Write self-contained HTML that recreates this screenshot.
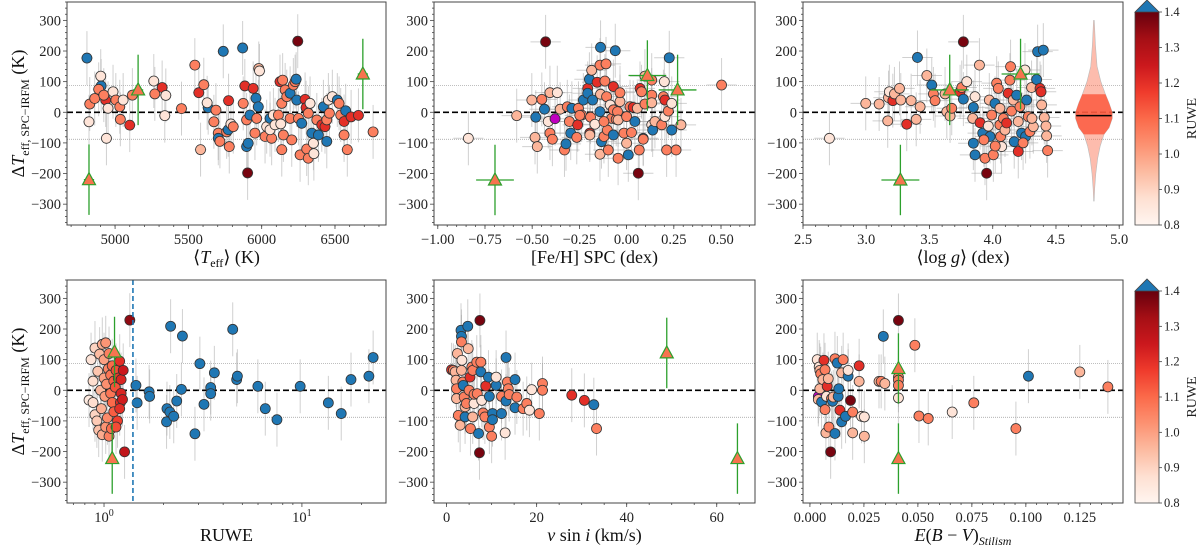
<!DOCTYPE html>
<html><head><meta charset="utf-8"><style>
html,body{margin:0;padding:0;background:#fff}
svg{display:block;font-family:"Liberation Serif",serif}
</style></head><body>
<svg id="fig" width="1200" height="550" viewBox="0 0 1200 550" xmlns="http://www.w3.org/2000/svg">
<defs>
<linearGradient id="reds" x1="0" y1="1" x2="0" y2="0">
<stop offset="0" stop-color="#fff5f0"/><stop offset="0.125" stop-color="#fee0d2"/><stop offset="0.25" stop-color="#fcbba1"/><stop offset="0.375" stop-color="#fc9272"/><stop offset="0.5" stop-color="#fb6a4a"/><stop offset="0.625" stop-color="#ef3b2c"/><stop offset="0.75" stop-color="#cb181d"/><stop offset="0.875" stop-color="#a50f15"/><stop offset="1" stop-color="#67000d"/>
</linearGradient>
</defs>
</svg>
<script>
// ---- data (x, ΔTeff, colour code: p pale, l light, s salmon, r red, d dark red, b blue (RUWE>1.4), m magenta)
const p1Teff=[4808,4822,4827,4861,4902,4905,4888,4936,4923,4941,4952,4986,5005,5032,5036,5055,5100,5118,5264,5271,5321,5346,5339,5453,5544,5571,5605,5583,5635,5628,5688,5674,5704,5704,5715,5738,5761,5772,5774,5779,5790,5806,5870,5874,5885,5897,5897,5904,5908,5920,5942,5954,5966,5961,5980,5985,5977,6023,6034,6057,6068,6057,6080,6091,6114,6125,6143,6137,6160,6171,6148,6137,6130,6194,6194,6205,6216,6228,6239,6251,6262,6246,6235,6273,6296,6303,6307,6318,6318,6330,6342,6353,6376,6387,6410,6421,6432,6444,6455,6462,6356,6482,6516,6528,6444,6539,6562,6562,6573,6584,6610,6760,6660];
const p1dT=[177,-31,27,45,118,86,75,40,56,-85,13,67,40,18,-23,40,-42,56,102,60,81,55,-11,12,154,64,90,-122,15,31,7,-31,-68,-85,-95,199,-64,-57,38,-112,-38,-47,210,29,86,-25,-112,-198,-101,-9,78,-68,-20,46,143,135,18,-79,-47,-20,-85,-57,-9,-41,-9,100,105,29,73,51,-74,-122,-38,62,-20,-90,89,100,40,-20,-139,232,108,-36,42,15,-120,-150,-3,29,-68,-101,-25,-74,-41,18,-47,-25,40,-3,-135,51,40,29,-95,-9,-30,-74,5,-122,-15,-64,-10];
const p1Col=["b","p","s","s","p","b","s","r","s","p","p","p","s","s","s","p","r","s","p","s","r","p","p","s","s","r","s","l","b","p","s","s","s","b","s","b","s","b","r","s","p","s","b","s","r","s","b","d","b","b","r","s","s","b","l","p","b","s","p","b","s","p","p","p","s","r","s","s","s","s","s","s","p","b","s","s","s","s","b","s","s","d","b","b","r","r","s","s","s","p","b","p","s","b","r","b","r","s","p","s","p","p","b","s","b","s","r","s","b","s","r","s","r"];
const p1TriX=[4822,5157,6690];
const p1TriY=[-220,73,125];

const p2Feh=[-0.838,-0.582,-0.502,-0.449,-0.485,-0.473,-0.435,-0.429,-0.481,-0.415,-0.406,-0.367,-0.379,-0.406,-0.393,-0.352,-0.329,-0.321,-0.314,-0.303,-0.296,-0.290,-0.264,-0.255,-0.259,-0.238,-0.229,-0.206,-0.206,-0.197,-0.185,-0.180,-0.191,-0.195,-0.195,-0.168,-0.156,-0.141,-0.138,-0.141,-0.141,-0.138,-0.133,-0.120,-0.115,-0.109,-0.106,-0.102,-0.097,-0.087,-0.079,-0.070,-0.070,-0.070,-0.060,-0.055,-0.048,-0.045,-0.045,-0.035,-0.035,-0.014,0.0,0.0,0.009,0.018,0.026,0.035,0.044,0.057,0.062,0.067,0.071,0.079,0.088,0.088,0.097,0.097,0.133,0.133,0.133,0.133,0.138,0.150,0.186,0.195,0.200,0.203,0.203,0.212,0.221,0.226,0.239,0.239,0.262,0.288,0.503,-0.248,-0.12];
const p2dT=[-85,-11,40,42,-82,-112,10,230,-16,-30,64,64,-21,-68,-88,10,-123,-103,18,-30,-68,13,-82,13,-41,-9,40,78,62,108,137,40,-16,-68,-74,-39,98,154,59,2,-137,212,-96,-79,102,158,51,-58,-123,24,-20,84,8,-74,201,-23,2,-25,-150,35,64,-68,-14,-101,-139,18,-66,16,-30,13,-199,-123,78,67,-85,-88,27,118,105,56,31,-41,-58,-30,-41,51,100,40,-14,-123,4,178,-58,29,-123,-41,89,-10,-30];
const p2Col=["p","l","l","s","l","l","b","d","b","p","l","p","m","s","s","l","s","b","s","s","b","b","s","s","r","s","b","r","b","b","l","b","s","r","l","p","r","s","l","b","l","b","b","s","s","s","s","s","s","p","s","r","s","b","b","s","s","l","s","l","s","s","s","l","b","s","s","r","b","l","d","s","r","s","b","s","s","l","s","s","l","p","b","l","s","s","p","r","p","s","s","b","b","p","s","l","s","s","s"];
const p2TriX=[-0.697,0.11,0.27];
const p2TriY=[-221,120,73];

const p3Logg=[2.709,2.996,3.102,3.170,3.176,3.183,3.210,3.223,3.263,3.273,3.320,3.355,3.395,3.405,3.426,3.479,3.518,3.531,3.544,3.623,3.637,3.663,3.676,3.742,3.755,3.768,3.768,3.795,3.842,3.847,3.860,3.847,3.860,3.895,3.900,3.921,3.939,3.952,3.965,3.973,3.979,3.992,4.005,4.018,4.031,4.044,4.057,4.057,4.062,4.070,4.084,4.097,4.123,4.136,4.141,4.149,4.162,4.170,4.189,4.202,4.202,4.215,4.228,4.255,4.260,4.268,4.281,4.294,4.307,4.321,4.347,4.355,4.374,4.382,4.387,4.400,4.408,4.421,4.426,4.434,3.93,4.02,4.11,4.24,4.31];
const p3dT=[-85,29,27,-28,48,67,38,60,78,40,-39,38,-23,179,18,120,89,60,38,60,2,-12,13,67,81,43,230,100,-20,16,51,-101,-139,154,-34,-68,-150,-199,-45,40,-79,-9,-139,29,95,78,13,-41,-79,-112,-20,-58,62,105,149,4,40,-96,56,-30,-128,18,-68,138,-79,40,-14,-63,81,-47,107,198,78,67,24,203,-17,-45,-77,-125,-90,-110,-35,-100,-20];
const p3Col=["p","l","l","l","l","p","r","l","l","l","r","l","l","b","l","l","b","s","s","l","l","l","s","r","s","b","d","p","l","b","p","b","b","l","r","b","s","d","p","l","b","s","s","b","s","s","l","s","s","p","s","l","r","s","s","s","l","b","b","l","r","s","b","p","b","b","s","s","l","l","b","b","r","r","l","b","l","l","l","s","s","s","r","s","l"];
const p3TriX=[3.27,3.66,4.22];
const p3TriY=[-221,73,125];
const violinY=[300,220,150,100,60,30,0,-20,-50,-72,-110,-150,-200,-250,-290];
const violinW=[0.003,0.012,0.025,0.055,0.09,0.12,0.145,0.145,0.12,0.08,0.05,0.03,0.015,0.006,0.002];
const violinQ=[59,-72];
const violinMed=-11;

const p4Ruwe=[1.45,1.47,1.69,1.70,2.07,2.08,2.17,2.15,2.25,2.33,2.46,2.49,2.88,3.05,3.20,3.46,3.46,3.61,4.47,4.68,4.72,5.99,6.53,7.48,9.80,13.6,15.8,17.7,21.8,22.9,1.35,1.27,
0.84,0.86,0.88,0.90,0.88,0.90,0.92,0.93,0.95,0.94,0.96,0.97,0.98,1.0,0.98,1.0,1.02,1.03,1.01,1.04,1.05,1.02,1.06,1.06,1.08,1.08,1.1,1.09,1.1,1.12,1.12,1.14,1.15,1.17,1.18,1.2,1.21,1.22,1.22,1.24,1.25,1.2,1.15];
const p4dT=[16,-41,-5,-20,-103,-60,209,-71,-85,-35,3,177,-142,87,-46,9,-11,57,199,35,46,13,-60,-96,13,-41,-76,35,46,107,229,-201,
-32,100,30,138,-40,-80,-100,62,118,-130,0,-60,150,40,-145,100,-120,20,-20,-90,70,155,-150,120,50,-10,-40,-125,80,-70,30,10,65,-100,40,95,-40,35,-10,-30,65,-60,-120];
const p4TriX=[1.13,1.10];
const p4TriY=[125,-223];
const p4Cut=1.4;

const p5Vsini=[1.1,1.5,1.9,2.1,2.2,2.2,2.4,2.6,3.0,3.2,3.3,3.3,3.4,3.3,3.6,3.7,3.9,4.1,4.1,4.4,4.7,4.8,5.0,5.2,5.3,5.6,5.8,5.8,6.1,6.1,6.7,6.8,7.1,7.3,7.4,7.6,7.6,7.8,8.1,8.5,8.7,9.3,9.5,9.5,10.0,10.2,10.2,11.0,11.0,12.2,12.2,13.2,13.0,13.2,13.5,13.7,13.9,15.2,15.2,15.6,17.0,17.8,18.4,18.9,20.6,21.3,21.3,27.8,30.6,32.7,33.3];
const p5dT=[67,65,60,33,5,-27,120,-82,-114,196,176,158,98,65,27,16,-22,-54,-87,-43,209,136,0,43,-125,76,65,-87,-43,-13,92,-11,-141,-204,228,92,60,-33,-74,-87,14,43,-20,-120,-150,-76,-96,16,43,-20,-76,107,-139,-35,27,5,-14,-57,35,-22,-60,-43,-65,2,-76,22,0,-16,-33,-47,-125];
const p5Col=["r","s","l","l","s","l","l","s","l","b","b","s","p","l","s","b","s","l","b","s","b","l","s","r","s","s","s","l","p","s","s","s","b","d","d","s","b","p","s","s","r","b","b","s","s","b","b","b","p","s","b","b","p","b","s","s","s","b","b","s","s","s","p","p","s","s","s","r","r","b","s"];
const p5TriX=[48.9,64.6];
const p5TriY=[122,-223];

const p6Ebv=[0.0034,0.0043,0.0039,0.0039,0.0046,0.0046,0.005,0.0054,0.006,0.0065,0.007,0.007,0.0074,0.0077,0.008,0.0085,0.0088,0.0096,0.01,0.0105,0.0108,0.0116,0.0116,0.0127,0.0131,0.0134,0.0139,0.0147,0.0147,0.0154,0.0165,0.0177,0.0177,0.0188,0.0198,0.0198,0.0228,0.0228,0.0239,0.0252,0.0252,0.032,0.033,0.034,0.0347,0.041,0.041,0.041,0.041,0.041,0.0486,0.0505,0.0548,0.0659,0.0759,0.0954,0.1012,0.125,0.138];
const p6dT=[100,76,-20,-30,65,5,54,-38,35,98,67,-63,-139,-20,13,38,-120,-201,-27,-36,-22,-141,103,89,-20,5,-65,57,-103,100,-85,46,65,-33,-139,-71,80,29,-85,-87,-150,29,29,176,22,228,43,33,16,-25,147,-84,-92,-71,-41,-125,46,60,11];
const p6Col=["p","p","m","l","l","l","s","b","l","r","s","s","l","p","r","l","s","d","s","b","l","b","s","b","b","b","r","l","b","s","b","b","p","d","l","s","r","l","p","p","l","l","s","b","l","d","s","s","s","p","s","s","s","p","s","s","b","l","s"];
const p6TriX=[0.041,0.041];
const p6TriY=[71,-223];

const yTicks=[-300,-200,-100,0,100,200,300];
const yTickLabels=["\u2212300","\u2212200","\u2212100","0","100","200","300"];
const sigmaLine=88;
const cbTicks=[0.8,0.9,1.0,1.1,1.2,1.3,1.4];

// ---- helpers
const svg=document.getElementById('fig');
const NS='http://www.w3.org/2000/svg';
function mk(tag,attrs,parent){const e=document.createElementNS(NS,tag);for(const k in attrs)e.setAttribute(k,attrs[k]);(parent||svg).appendChild(e);return e;}
const codeRuwe={p:0.86,l:0.96,s:1.06,r:1.2,d:1.38,b:2.5};
const stops=["#fff5f0","#fee0d2","#fcbba1","#fc9272","#fb6a4a","#ef3b2c","#cb181d","#a50f15","#67000d"];
function hex(h){return [parseInt(h.substr(1,2),16),parseInt(h.substr(3,2),16),parseInt(h.substr(5,2),16)];}
function reds(r){
  if(r>1.4) return "#1f77b4";
  let t=Math.max(0,Math.min(1,(r-0.8)/0.6))*8;let i=Math.min(7,Math.floor(t));let f=t-i;
  const a=hex(stops[i]),b=hex(stops[i+1]);
  return "rgb("+a.map((v,k)=>Math.round(v+(b[k]-v)*f)).join(",")+")";
}
function colFor(c){ if(c==="m") return "#c000c0"; return reds(codeRuwe[c]); }
const YMIN=-368,YMAX=360;

function makePanel(cfg){
  const g=mk('g',{});
  
  
  cfg.sx=function(v){
    if(cfg.log) return cfg.x0+(Math.log10(v)-Math.log10(cfg.xmin))/(Math.log10(cfg.xmax)-Math.log10(cfg.xmin))*(cfg.x1-cfg.x0);
    return cfg.x0+(v-cfg.xmin)/(cfg.xmax-cfg.xmin)*(cfg.x1-cfg.x0);};
  cfg.sy=function(v){return cfg.y1-(v-YMIN)/(YMAX-YMIN)*(cfg.y1-cfg.y0);};
  cfg.g=g;
  // sigma lines and zero line
  [sigmaLine,-sigmaLine].forEach(v=>{
    const l=mk('line',{x1:cfg.x0,x2:cfg.x1,y1:cfg.sy(v),y2:cfg.sy(v),stroke:'#999','stroke-width':0.7,'stroke-dasharray':'1,1'},g);
    
    
  });
  return g;
}
function finishPanel(cfg){
  const g=cfg.g;
  const z=mk('line',{x1:cfg.x0,x2:cfg.x1,y1:cfg.sy(0),y2:cfg.sy(0),stroke:'#000','stroke-width':1.6,'stroke-dasharray':'6,3'},g);
  
  
}
function drawFrame(cfg,ylabel){
  const g=cfg.g;
  const fr=mk('rect',{x:cfg.x0,y:cfg.y0,width:cfg.x1-cfg.x0,height:cfg.y1-cfg.y0,fill:'none',stroke:'#444','stroke-width':1},g);
  
  
  // y ticks
  for(let v=-360;v<=360;v+=20){
    const y=cfg.sy(v);if(y<cfg.y0||y>cfg.y1)continue;
    const major=v%100===0;
    mk('line',{x1:cfg.x0,x2:cfg.x0-(major?4:2),y1:y,y2:y,stroke:'#444','stroke-width':0.8},g);
  }
  yTicks.forEach((v,i)=>{
    const t=mk('text',{x:cfg.x0-6,y:cfg.sy(v)+5,'text-anchor':'end','font-size':14.5,fill:'#222'},g);
    t.textContent=yTickLabels[i];
    
    
  });
  // x ticks
  cfg.minor.forEach(v=>{const x=cfg.sx(v);if(x<cfg.x0-0.5||x>cfg.x1+0.5)return;mk('line',{x1:x,x2:x,y1:cfg.y1,y2:cfg.y1+2,stroke:'#444','stroke-width':0.8},g);});
  cfg.ticks.forEach((v,i)=>{
    const x=cfg.sx(v);
    mk('line',{x1:x,x2:x,y1:cfg.y1,y2:cfg.y1+4,stroke:'#444','stroke-width':0.8},g);
    const t=mk('text',{x:x,y:cfg.y1+19,'text-anchor':'middle','font-size':14.5,fill:'#222'},g);
    if(cfg.log){t.textContent='10';const s=mk('tspan',{dy:-6,'font-size':10},t);s.textContent=cfg.tickLabels[i];}
    else t.textContent=cfg.tickLabels[i];
    
    
  });
  const xl=mk('text',{x:(cfg.x0+cfg.x1)/2,y:cfg.y1+38,'text-anchor':'middle','font-size':18,fill:'#111'},g);
  xl.innerHTML=cfg.xlabel;
  
  
  if(ylabel){
    const cy=(cfg.y0+cfg.y1)/2;
    const yl=mk('text',{x:0,y:0,'text-anchor':'middle','font-size':18,fill:'#111',transform:'translate(24,'+cy+') rotate(-90)'},g);
    yl.innerHTML='\u0394<tspan font-style="italic">T</tspan><tspan font-size="12" dy="5">eff, SPC\u2212IRFM</tspan><tspan dy="-5"> (K)</tspan>';
    
    
  }
}
function drawPoints(cfg,xs,ys,cols,xerr){
  const g=cfg.g;
  xs.forEach((v,i)=>{
    const x=cfg.sx(v),y=cfg.sy(ys[i]);
    const e=mk('line',{x1:x,x2:x,y1:cfg.sy(ys[i]+88),y2:cfg.sy(ys[i]-88),stroke:'#aaa','stroke-width':1,'stroke-opacity':0.55},g);
    
    
    if(xerr){
      const h=mk('line',{x1:cfg.sx(v-xerr),x2:cfg.sx(v+xerr),y1:y,y2:y,stroke:'#aaa','stroke-width':1,'stroke-opacity':0.55},g);
      
      
    }
  });
  finishPanel(cfg);
  xs.forEach((v,i)=>{
    const c=cols?colFor(cols[i]):reds(v);
    const p=mk('circle',{cx:cfg.sx(v),cy:cfg.sy(ys[i]),r:5,fill:c,stroke:'#333','stroke-width':0.8},g);
    
    
  });
}
function drawTris(cfg,xs,ys,xerr){
  const g=cfg.g;
  xs.forEach((v,i)=>{
    const x=cfg.sx(v),y=cfg.sy(ys[i]);
    const e=mk('line',{x1:x,x2:x,y1:cfg.sy(ys[i]+115),y2:cfg.sy(ys[i]-115),stroke:'#2ca02c','stroke-width':1.3},g);
    
    
    if(xerr){
      const h=mk('line',{x1:cfg.sx(v-xerr),x2:cfg.sx(v+xerr),y1:y,y2:y,stroke:'#2ca02c','stroke-width':1.3},g);
      
      
    }
    const t=mk('polygon',{points:(x)+','+(y-7)+' '+(x-6.5)+','+(y+5)+' '+(x+6.5)+','+(y+5),fill:'#f7734f',stroke:'#2ca02c','stroke-width':1.2},g);
    
    
  });
}
function range(a,b,s){const r=[];for(let v=a;v<=b+1e-9;v+=s)r.push(+v.toFixed(4));return r;}
function colorbar(y0,y1){
  const g=mk('g',{});
  
  
  const x0=1135,w=24;
  mk('rect',{x:x0,y:y0,width:w,height:y1-y0,fill:'url(#reds)'},g);
  const tri=mk('polygon',{points:x0+','+y0+' '+(x0+w/2)+','+(y0-12)+' '+(x0+w)+','+y0,fill:'#1f77b4',stroke:'#444','stroke-width':0.8},g);
  
  
  mk('polyline',{points:x0+','+y0+' '+x0+','+y1+' '+(x0+w)+','+y1+' '+(x0+w)+','+y0,fill:'none',stroke:'#444','stroke-width':0.8},g);
  cbTicks.forEach(v=>{
    const y=y1-(v-0.8)/0.6*(y1-y0);
    mk('line',{x1:x0+w,x2:x0+w+3,y1:y,y2:y,stroke:'#444','stroke-width':0.8},g);
    const t=mk('text',{x:x0+w+5,y:y+4,'font-size':12.5,fill:'#222'},g);
    t.textContent=v.toFixed(1);
    
    
  });
  const l=mk('text',{x:0,y:0,'text-anchor':'middle','font-size':14,fill:'#222',transform:'translate(1196,'+((y0+y1)/2)+') rotate(-90)'},g);
  l.textContent='RUWE';
  
  
}

// ---- panels
const TOP=[2,225],BOT=[280,503];
const c1={name:'panel-teff',x0:67,x1:386,y0:TOP[0],y1:TOP[1],xmin:4672,xmax:6848,ticks:[5000,5500,6000,6500],tickLabels:['5000','5500','6000','6500'],minor:range(4700,6800,100),
 xlabel:'\u27E8<tspan font-style="italic">T</tspan><tspan font-size="12" dy="4">eff</tspan><tspan dy="-4">\u27E9 (K)</tspan>'};
makePanel(c1);drawPoints(c1,p1Teff,p1dT,p1Col,40);drawTris(c1,p1TriX,p1TriY,35);drawFrame(c1,true);

const c2={name:'panel-feh',x0:434,x1:755,y0:TOP[0],y1:TOP[1],xmin:-1.02,xmax:0.68,ticks:[-1,-0.75,-0.5,-0.25,0,0.25,0.5],tickLabels:['\u22121.00','\u22120.75','\u22120.50','\u22120.25','0.00','0.25','0.50'],minor:range(-1,0.65,0.05),
 xlabel:'[Fe/H] SPC (dex)'};
makePanel(c2);drawPoints(c2,p2Feh,p2dT,p2Col,0.08);drawTris(c2,p2TriX,p2TriY,0.1);drawFrame(c2,false);

const c3={name:'panel-logg',x0:803,x1:1123,y0:TOP[0],y1:TOP[1],xmin:2.5,xmax:5.03,ticks:[2.5,3,3.5,4,4.5,5],tickLabels:['2.5','3.0','3.5','4.0','4.5','5.0'],minor:range(2.5,5.0,0.1),
 xlabel:'\u27E8log <tspan font-style="italic">g</tspan>\u27E9 (dex)'};
makePanel(c3);drawPoints(c3,p3Logg,p3dT,p3Col,0.12);drawTris(c3,p3TriX,p3TriY,0.15);
(function(){
  const vx=4.8;let L='',R='';
  violinY.forEach((v,i)=>{L+=(i?'L':'M')+c3.sx(vx-violinW[i])+','+c3.sy(v);});
  for(let i=violinY.length-1;i>=0;i--){R+='L'+c3.sx(vx+violinW[i])+','+c3.sy(violinY[i]);}
  const vp=mk('path',{d:L+R+'Z',fill:'#fb6a4a','fill-opacity':0.45,stroke:'#bbb','stroke-width':0.6},c3.g);
  
  
  const cp=document.createElementNS(NS,'clipPath');cp.setAttribute('id','vq');svg.appendChild(cp);
  mk('rect',{x:c3.x0,y:c3.sy(violinQ[0]),width:c3.x1-c3.x0,height:c3.sy(violinQ[1])-c3.sy(violinQ[0])},cp);
  const q=mk('path',{d:L+R+'Z',fill:'#fb5a40','clip-path':'url(#vq)','fill-opacity':0.85},c3.g);
  
  
  const m=mk('line',{x1:c3.sx(vx-0.14),x2:c3.sx(vx+0.14),y1:c3.sy(violinMed),y2:c3.sy(violinMed),stroke:'#000','stroke-width':1.5},c3.g);
  
  
})();
drawFrame(c3,false);
colorbar(12,TOP[1]);

const c4={name:'panel-ruwe',x0:67,x1:386,y0:BOT[0],y1:BOT[1],xmin:0.65,xmax:26.6,log:true,ticks:[1,10],tickLabels:['0','1'],minor:[0.7,0.8,0.9,2,3,4,5,6,7,8,9,20],
 xlabel:'RUWE'};
makePanel(c4);drawPoints(c4,p4Ruwe,p4dT,null,0);drawTris(c4,p4TriX,p4TriY,0);
(function(){const x=c4.sx(p4Cut);const l=mk('line',{x1:x,x2:x,y1:c4.y0,y2:c4.y1,stroke:'#1f77b4','stroke-width':1.6,'stroke-dasharray':'5,3'},c4.g);

})();
drawFrame(c4,true);

const c5={name:'panel-vsini',x0:434,x1:755,y0:BOT[0],y1:BOT[1],xmin:-2.8,xmax:68.5,ticks:[0,20,40,60],tickLabels:['0','20','40','60'],minor:range(0,65,5),
 xlabel:'<tspan font-style="italic">v</tspan> sin <tspan font-style="italic">i</tspan> (km/s)'};
makePanel(c5);drawPoints(c5,p5Vsini,p5dT,p5Col,0);drawTris(c5,p5TriX,p5TriY,0);drawFrame(c5,false);

const c6={name:'panel-ebv',x0:803,x1:1123,y0:BOT[0],y1:BOT[1],xmin:-0.0032,xmax:0.145,ticks:[0,0.025,0.05,0.075,0.1,0.125],tickLabels:['0.000','0.025','0.050','0.075','0.100','0.125'],minor:range(0,0.14,0.005),
 xlabel:'<tspan font-style="italic">E</tspan>(<tspan font-style="italic">B</tspan> \u2212 <tspan font-style="italic">V</tspan>)<tspan font-size="12" dy="4" font-style="italic">Stilism</tspan>'};
makePanel(c6);drawPoints(c6,p6Ebv,p6dT,p6Col,0);drawTris(c6,p6TriX,p6TriY,0);drawFrame(c6,false);
colorbar(291,BOT[1]);
</script>
</body></html>
